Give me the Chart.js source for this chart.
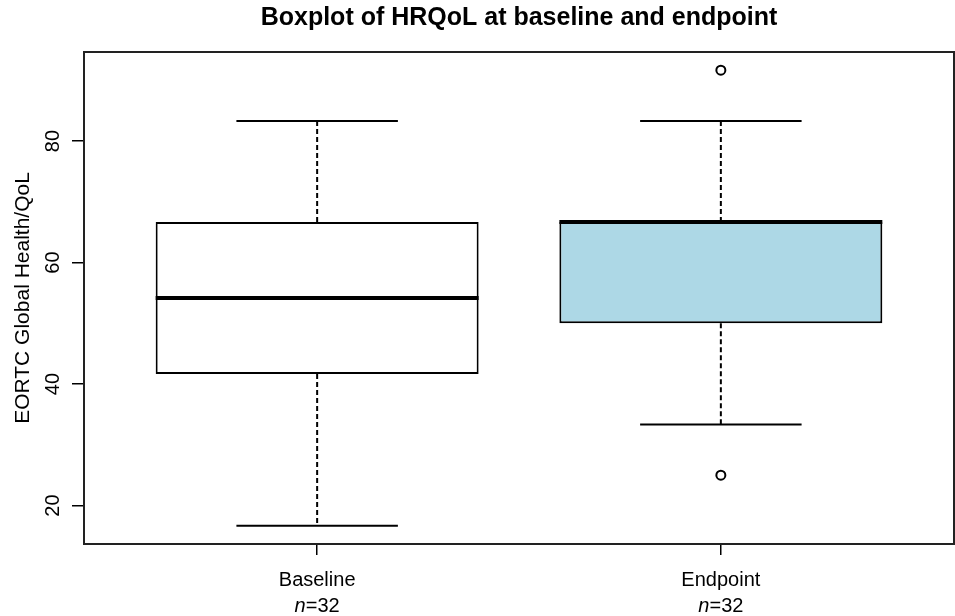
<!DOCTYPE html>
<html>
<head>
<meta charset="utf-8">
<title>Boxplot of HRQoL</title>
<script src="https://cdn.jsdelivr.net/npm/chart.js@4/dist/chart.umd.min.js"></script>
<style>
  html, body { margin: 0; padding: 0; background: #fff; }
  #wrap { width: 955px; height: 616px; }
</style>
</head>
<body>
<div id="wrap"><canvas id="chart" width="955" height="616"></canvas></div>
<script>
// box summary per group
const categories = ["Baseline", "Endpoint"]
const counts = [32, 32]
const lowerWhisker = [16.67, 33.33]
const q1 = [41.67, 50]
const median = [54.17, 66.67]
const q3 = [66.67, 66.67]
const upperWhisker = [83.33, 83.33]
const outliers = [[], [91.67, 25]]
const boxColors = ["#ffffff", "#add8e6"]
const yTicks = [20, 40, 60, 80]

const FONT = "'Liberation Sans', Arial, Helvetica, sans-serif"
Chart.defaults.color = "#000"
Chart.defaults.font.family = FONT

// whiskers, caps and medians, placed through the chart scales
const boxParts = {
  id: "boxParts",
  afterDatasetsDraw(chart) {
    const { ctx, scales: { x, y } } = chart
    const bar = chart.getDatasetMeta(0).data
    ctx.save()
    ctx.strokeStyle = "#000"
    categories.forEach((name, i) => {
      const cx = x.getPixelForValue(i + 1)
      const half = bar[i].width / 2
      const capHalf = half / 2

      ctx.lineWidth = 2
      ctx.setLineDash([5, 3])
      ctx.beginPath()
      ctx.moveTo(cx, y.getPixelForValue(q3[i]))
      ctx.lineTo(cx, y.getPixelForValue(upperWhisker[i]))
      ctx.moveTo(cx, y.getPixelForValue(q1[i]))
      ctx.lineTo(cx, y.getPixelForValue(lowerWhisker[i]))
      ctx.stroke()

      ctx.setLineDash([])
      ctx.beginPath()
      for (const v of [upperWhisker[i], lowerWhisker[i]]) {
        const py = y.getPixelForValue(v)
        ctx.moveTo(cx - capHalf, py)
        ctx.lineTo(cx + capHalf, py)
      }
      ctx.stroke()

      ctx.lineWidth = 4
      ctx.beginPath()
      const my = y.getPixelForValue(median[i])
      ctx.moveTo(cx - half, my)
      ctx.lineTo(cx + half, my)
      ctx.stroke()
    })
    ctx.restore()
  },
  afterDraw(chart) {
    const { ctx, chartArea: a, scales: { x } } = chart
    ctx.save()
    // plot frame
    ctx.strokeStyle = "#222"
    ctx.lineWidth = 2
    ctx.strokeRect(a.left + 1, a.top, a.right - a.left - 2, a.bottom - a.top)

    // second line of the x labels: italic n, then "=32"
    ctx.fillStyle = "#000"
    ctx.textBaseline = "middle"
    ctx.textAlign = "left"
    const ly = x.top + 11 + 13 + 38
    categories.forEach((name, i) => {
      const cx = x.getPixelForValue(i + 1)
      ctx.font = "italic 20px " + FONT
      const wn = ctx.measureText("n").width
      ctx.font = "20px " + FONT
      const rest = "=" + counts[i]
      const wr = ctx.measureText(rest).width
      const start = cx - (wn + wr) / 2
      ctx.font = "italic 20px " + FONT
      ctx.fillText("n", start, ly)
      ctx.font = "20px " + FONT
      ctx.fillText(rest, start + wn, ly)
    })
    ctx.restore()
  }
}

const outlierPoints = []
outliers.forEach((list, i) => list.forEach((v) => outlierPoints.push({ x: i + 1, y: v })))

const noPadding = (scale) => {
  scale.paddingLeft = 0
  scale.paddingRight = 0
  scale.paddingTop = 0
  scale.paddingBottom = 0
}

new Chart(document.getElementById("chart"), {
  type: "bar",
  data: {
    datasets: [
      {
        type: "bar",
        data: categories.map((name, i) => ({ x: i + 1, y: [q1[i], q3[i]] })),
        backgroundColor: boxColors,
        borderColor: "#000",
        borderWidth: 2,
        borderSkipped: false,
        barPercentage: 0.8,
        categoryPercentage: 1
      },
      {
        type: "scatter",
        data: outlierPoints,
        pointRadius: 4.5,
        pointBorderWidth: 2,
        pointBackgroundColor: "#fff",
        pointBorderColor: "#000"
      }
    ]
  },
  options: {
    responsive: false,
    animation: false,
    layout: { padding: 0, autoPadding: false },
    plugins: {
      legend: { display: false },
      tooltip: { enabled: false },
      title: {
        display: true,
        text: "Boxplot of HRQoL at baseline and endpoint",
        fullSize: false,
        font: { size: 25, weight: "bold" },
        color: "#000",
        padding: { top: 3.5, bottom: 18.5 }
      }
    },
    scales: {
      x: {
        type: "linear",
        offset: false,
        min: 0.42,
        max: 2.58,
        afterBuildTicks: (scale) => { scale.ticks = categories.map((c, i) => ({ value: i + 1 })) },
        afterFit: (scale) => { scale.height = 72; noPadding(scale) },
        ticks: {
          callback: (value, index) => categories[index],
          font: { size: 20 },
          maxRotation: 0,
          padding: 13,
          color: "#000"
        },
        grid: { offset: false, drawOnChartArea: false, drawTicks: true, tickLength: 11, color: "#000", lineWidth: 1.5 },
        border: { display: false }
      },
      y: {
        min: 13.67,
        max: 94.67,
        afterBuildTicks: (scale) => { scale.ticks = yTicks.map((v) => ({ value: v })) },
        afterFit: (scale) => { scale.width = 83; noPadding(scale) },
        ticks: {
          font: { size: 20 },
          minRotation: 90,
          maxRotation: 90,
          crossAlign: "center",
          padding: 7,
          color: "#000"
        },
        grid: { drawOnChartArea: false, drawTicks: true, tickLength: 11, color: "#000", lineWidth: 1.5 },
        border: { display: false },
        title: {
          display: true,
          text: "EORTC Global Health/QoL",
          font: { size: 21 },
          color: "#000",
          padding: { top: 11, bottom: 0 }
        }
      }
    }
  },
  plugins: [boxParts]
})
</script>
</body>
</html>
